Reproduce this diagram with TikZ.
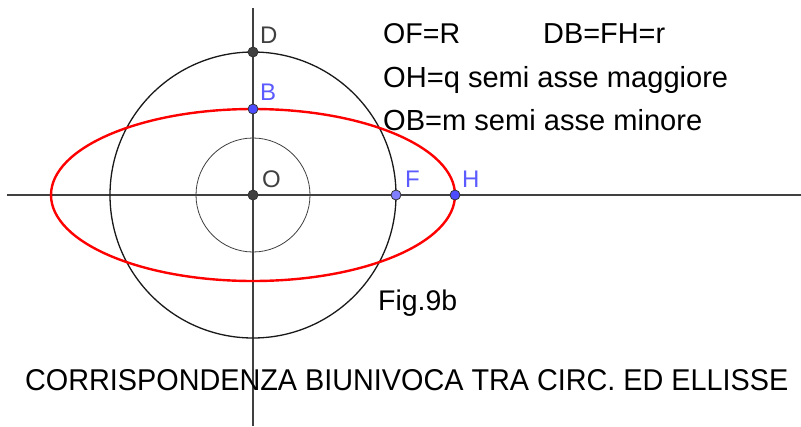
\documentclass[tikz,border=0pt]{standalone}
\usepackage{fontspec}
\setmainfont{Liberation Sans}
\usepackage{graphicx}
\definecolor{axisgray}{HTML}{404040}
\definecolor{ptblue}{HTML}{4D4DFF}
\definecolor{ptlight}{HTML}{7F7FFF}
\definecolor{labgray}{HTML}{404040}
\definecolor{labblue}{HTML}{5B5BFF}
\begin{document}
\begin{tikzpicture}[x=1pt,y=-1pt,
  axisline/.style={draw=axisgray,line width=2.6pt},
  dot/.style={circle,inner sep=0pt,minimum size=10pt,draw=black!80,line width=0.8pt},
  lab/.style={anchor=base west,inner sep=0pt,font=\fontsize{24}{24}\selectfont},
  txt/.style={anchor=base west,inner sep=0pt}]
\useasboundingbox[fill=white] (0,0) rectangle (801,426);
\coordinate (O) at (253,195);
\coordinate (axL) at (7,195);
\coordinate (axR) at (801,195);
\coordinate (axT) at (253,8);
\coordinate (axB) at (253,426);
\draw[axisline] (axL) -- (axR);
\draw[axisline] (axT) -- (axB);
\draw[black!75!white,line width=0.8pt] (O) circle[radius=57];
\draw[black!90,line width=1.3pt] (O) circle[radius=143];
\draw[red,line width=2.4pt] (O) ellipse[x radius=202,y radius=86];
\node[dot,fill=axisgray] (Op) at (O) {};
\node[dot,fill=axisgray] (D) at (253,52) {};
\node[dot,fill=ptblue] (B) at (253,109) {};
\node[dot,fill=ptlight] (F) at (396,195) {};
\node[dot,fill=ptblue] (H) at (455,195) {};
\node[lab,text=labgray] (lD) at (260,43) {D};
\node[lab,text=labblue] (lB) at (260,100) {B};
\node[lab,text=labgray] (lO) at (262,187) {O};
\node[lab,text=labblue] (lF) at (405,187) {F};
\node[lab,text=labblue] (lH) at (462,187) {H};
\node[txt] (t1) at (383,43) {\resizebox{77pt}{!}{OF=R}};
\node[txt] (t2) at (543,43) {\resizebox{122pt}{!}{DB=FH=r}};
\node[txt] (t3) at (383,87) {\resizebox{345pt}{!}{OH=q semi asse maggiore}};
\node[txt] (t4) at (383,130) {\resizebox{319pt}{!}{OB=m semi asse minore}};
\node[txt] (fig) at (378,310) {\resizebox{79pt}{!}{Fig.9b}};
\node[txt] (title) at (25,390) {\resizebox{763pt}{21pt}{CORRISPONDENZA BIUNIVOCA TRA CIRC. ED ELLISSE}};
\end{tikzpicture}
\end{document}
